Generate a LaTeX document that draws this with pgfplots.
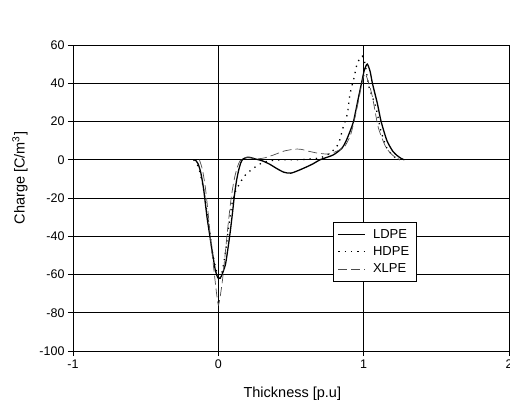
\documentclass[border=0pt]{standalone}
\usepackage{pgfplots}
\pgfplotsset{compat=1.18}
\usepackage{fontspec}
\setmainfont{Liberation Sans}
\begin{document}
\begin{tikzpicture}
\begin{axis}[
 name=ax,
 scale only axis, width=436pt, height=306pt,
 xmin=-1, xmax=2, ymin=-100, ymax=60,
 xtick={-1,0,1,2}, ytick={-100,-80,...,60},
 axis x line*=bottom, axis y line*=left,
 axis line style={-, black, line width=0.6pt},
 grid=major, grid style={black, line width=0.6pt},
 tick align=outside, major tick length=5pt,
 tick style={black, line width=0.6pt},
 /pgf/number format/assume math mode=true,
 ticklabel style={font=\fontsize{12.5}{14}\selectfont},
 label style={font=\fontsize{14.5}{16}\selectfont},
 xlabel={Thickness [p.u]},
 ylabel={Charge [C/m\textsuperscript{3}]},
 xlabel style={at={(ticklabel cs:0.503)}, anchor=north, yshift=-12pt},
 ylabel style={at={(ticklabel cs:0.565)}, anchor=south, yshift=5pt},
 legend style={at={(axis cs:0.786,-32.5)}, anchor=north west, draw=black,
   font=\fontsize{13}{15}\selectfont, inner xsep=5pt, inner ysep=5pt, row sep=3pt,
   /tikz/column 1/.style={column sep=5pt}},
 legend cell align=left,
 legend image code/.code={\draw[#1] (0pt,0pt) -- (27pt,0pt);},
]
\addplot[black, line width=1.3pt, smooth, tension=0.4] coordinates {
(-0.16,0) (-0.14,-2) (-0.12,-7) (-0.10,-16) (-0.078,-30) (-0.06,-39) (-0.044,-47) (-0.02,-58) (0,-62) (0.02,-61) (0.048,-55) (0.065,-47) (0.083,-37) (0.1,-26) (0.11,-19) (0.125,-11) (0.14,-5.4) (0.155,-1.5) (0.17,0.4) (0.2,1.3) (0.22,1.2) (0.25,0.5) (0.3,-0.5) (0.35,-2.2) (0.4,-4.5) (0.45,-6.5) (0.5,-7) (0.57,-5) (0.65,-2.2) (0.70,0) (0.79,2.5) (0.85,6) (0.88,10) (0.91,15.6) (0.93,20) (0.96,31) (0.985,40) (1.005,47) (1.025,50) (1.045,46) (1.06,40) (1.094,29.5) (1.12,20) (1.16,10) (1.2,4.5) (1.23,2.2) (1.26,0.6) (1.28,0)
};
\addlegendentry{LDPE}
\addplot[black, line width=1.3pt, dash pattern=on 1.3pt off 5pt, smooth, tension=0.4] coordinates {
(-0.17,0) (-0.138,-3.6) (-0.11,-12) (-0.09,-21) (-0.067,-33) (-0.044,-47) (-0.02,-56) (0.005,-63) (0.025,-59) (0.048,-49) (0.071,-35) (0.094,-23) (0.117,-16.7) (0.15,-12) (0.186,-8) (0.24,-4.5) (0.3,-1.7) (0.36,-0.5) (0.45,0) (0.55,0) (0.646,0.5) (0.70,1) (0.76,3) (0.814,6.8) (0.84,11.3) (0.853,15.6) (0.876,20.8) (0.89,25) (0.903,33) (0.917,38) (0.933,42.6) (0.956,50.4) (0.99,54.2) (1.01,50) (1.037,38) (1.083,27.7) (1.117,15.6) (1.16,6) (1.21,1.6) (1.25,0)
};
\addlegendentry{HDPE}
\addplot[black!70, line width=0.7pt, dash pattern=on 9pt off 4pt, smooth, tension=0.4] coordinates {
(-0.13,0) (-0.11,-5) (-0.09,-14) (-0.07,-28) (-0.05,-44) (-0.03,-58) (-0.012,-70) (0,-76) (0.012,-72) (0.03,-62) (0.05,-47) (0.07,-32) (0.09,-19) (0.11,-10) (0.13,-4) (0.15,-0.5) (0.18,1) (0.22,1) (0.27,0.5) (0.32,1) (0.38,2.5) (0.45,4.5) (0.52,5.5) (0.566,5.5) (0.62,4.5) (0.68,3.5) (0.76,3) (0.83,5) (0.87,7) (0.91,13) (0.94,22) (0.97,33) (0.99,41) (1.01,45) (1.035,40) (1.06,33) (1.10,17) (1.15,7) (1.19,3) (1.22,1.2) (1.25,0)
};
\addlegendentry{XLPE}
\end{axis}
\pgfresetboundingbox
\path (ax.south west) ++(-73pt,-55pt) rectangle ++(510pt,406pt);
\end{tikzpicture}
\end{document}
